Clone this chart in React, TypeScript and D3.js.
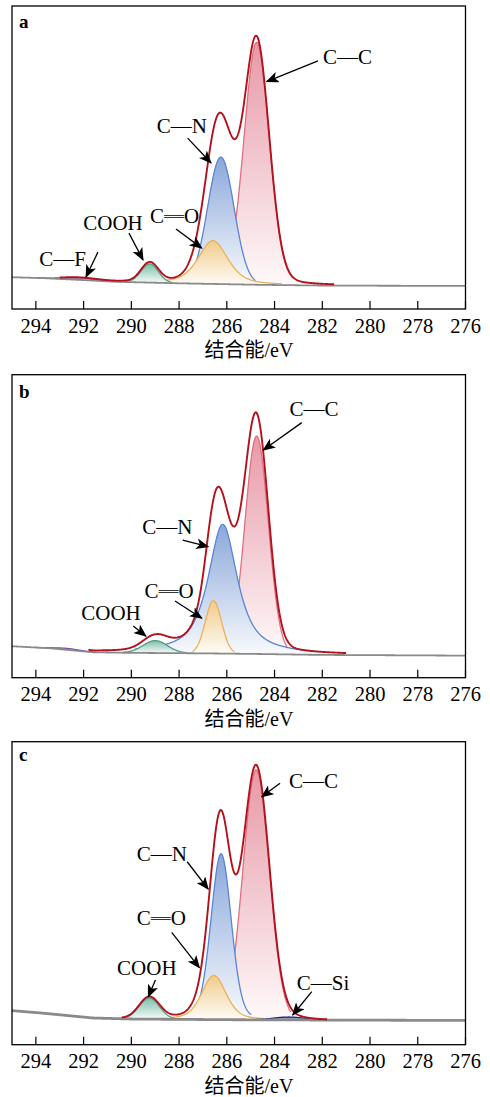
import React from 'react';
import * as d3 from 'd3';

// binding energy ticks (eV)
const tickValues = [294, 292, 290, 288, 286, 284, 282, 280, 278, 276];
const panelLetters = ['a', 'b', 'c'];

// fitted components, panel a
const peakKeysA = ['CC', 'CN', 'CO', 'COOH', 'CF'];
const peakCentersA = [284.75, 286.25, 286.58, 289.23, 292.2];
const peakHeightsA = [84, 44, 15, 6.5, 0.7];
const peakWidthsA = [1.25, 1.3, 1.46, 0.85, 1.6];
const peakMixA = [0.1, 0, 0.5, 0, 0];
const baseEnergyA = [295, 293.7, 292.2, 290.8, 290, 288, 284.4, 281.6, 276];
const baseLevelA = [3.0, 2.7, 2.1, 1.5, 1.3, 0.9, 0.35, 0.1, 0];
const envelopeRangeA = [293.0, 281.5];

// panel b
const peakKeysB = ['CC', 'CN', 'CO', 'COOH', 'CF'];
const peakCentersB = [284.75, 286.17, 286.56, 289.0, 292.7];
const peakHeightsB = [75.5, 44.8, 18.3, 4.3, 0.5];
const peakWidthsB = [1.15, 1.45, 0.8, 1.2, 1.2];
const peakMixB = [0, 0.8, 0, 0, 0];
const baseEnergyB = [295, 293.4, 291.6, 289.9, 287.1, 284.5, 282.1, 276];
const baseLevelB = [2.9, 2.2, 0.8, 0.6, 0.45, 0.2, -0.1, -0.35];
const envelopeRangeB = [291.8, 281.0];

// panel c
const peakKeysC = ['CC', 'CN', 'CO', 'COOH', 'CSi'];
const peakCentersC = [284.77, 286.24, 286.54, 289.25, 283.4];
const peakHeightsC = [86.6, 57.5, 15.3, 7.35, 1.0];
const peakWidthsC = [1.3, 1.0, 1.2, 1.0, 1.5];
const peakMixC = [0, 0.15, 0.4, 0, 0];
const baseEnergyC = [295, 293.8, 291.6, 290, 285.7, 276];
const baseLevelC = [3.8, 3.0, 1.25, 0.9, 0.65, 0.4];
const envelopeRangeC = [290.4, 281.8];

// annotations: [label, text E, text I, arrow start E, I, arrow tip E, I]
const notesA = [
  ['C—C', 280.94, 79.3, 282.18, 78.0, 284.33, 70.8],
  ['C—N', 287.88, 55.4, 287.64, 51.2, 286.66, 42.6],
  ['C═O', 288.19, 24.2, 288.13, 19.7, 287.05, 13.1],
  ['COOH', 290.77, 21.9, 290.1, 18.3, 289.51, 9.0],
  ['C—F', 292.88, 9.3, 291.4, 11.7, 291.9, 3.1],
];
const notesB = [
  ['C—C', 282.35, 85.1, 282.86, 80.4, 284.47, 70.9],
  ['C—N', 288.49, 44.3, 287.85, 39.7, 286.78, 37.4],
  ['C═O', 288.42, 22.1, 288.17, 18.6, 287.05, 12.6],
  ['COOH', 290.85, 14.5, 289.92, 9.9, 289.39, 6.4],
];
const notesC = [
  ['C—C', 282.37, 83.4, 283.77, 82.6, 284.54, 77.9],
  ['C—N', 288.72, 58.1, 287.66, 55.4, 286.78, 45.9],
  ['C═O', 288.74, 36.0, 288.31, 30.9, 287.15, 18.7],
  ['COOH', 289.35, 18.7, 288.99, 14.4, 289.29, 8.6],
  ['C—Si', 281.97, 13.3, 282.44, 10.4, 283.24, 2.3],
];

const colors = {
  CC: { fill: '#e799a7', stroke: '#e0707f' },
  CN: { fill: '#8aa7da', stroke: '#5a84d6' },
  CO: { fill: '#f1cb8a', stroke: '#e9b257' },
  COOH: { fill: '#7dbeaa', stroke: '#4f9e85' },
  CF: { fill: '#b79bd0', stroke: '#7d52a8' },
  CSi: { fill: '#5860a8', stroke: '#1b237a' },
};

const panels = [
  { keys: peakKeysA, centers: peakCentersA, heights: peakHeightsA, widths: peakWidthsA, mix: peakMixA, baseE: baseEnergyA, baseI: baseLevelA, env: envelopeRangeA, notes: notesA },
  { keys: peakKeysB, centers: peakCentersB, heights: peakHeightsB, widths: peakWidthsB, mix: peakMixB, baseE: baseEnergyB, baseI: baseLevelB, env: envelopeRangeB, notes: notesB },
  { keys: peakKeysC, centers: peakCentersC, heights: peakHeightsC, widths: peakWidthsC, mix: peakMixC, baseE: baseEnergyC, baseI: baseLevelC, env: envelopeRangeC, notes: notesC },
];

const W = 490;
const H = 1097;
const plotLeft = 12;
const plotRight = 465.5;
const plotHeight = 303;
const panelTops = [6, 374.7, 741.7];
const letterY = [28.3, 398.3, 761];
const serif = "'Times New Roman', 'Liberation Serif', 'Noto Sans CJK SC', serif";

// pseudo-Voigt line shape used by the fit
const voigt = (e, c, h, w, m) => {
  const t = (e - c) / w;
  return h * ((1 - m) * Math.exp(-4 * Math.LN2 * t * t) + m / (1 + 4 * t * t));
};

const Label = ({ text, x, y }) => {
  const parts = text.split(/(═)/);
  return (
    <text x={x} y={y} textAnchor="middle" dominantBaseline="central" fontSize={21} fontFamily={serif}>
      {parts.map((s, i) =>
        s === '═' ? <tspan key={i} fontFamily="'Noto Sans CJK SC'" fontSize={20}>{s}</tspan> : <tspan key={i}>{s}</tspan>
      )}
    </text>
  );
};

const Panel = ({ p, idx }) => {
  const top = panelTops[idx];
  const bottom = top + plotHeight;
  const x = d3.scaleLinear().domain([295, 276]).range([plotLeft, plotRight]);
  const y = d3.scaleLinear().domain([-8, 97]).range([bottom, top]);
  const base = d3.scaleLinear().domain(p.baseE).range(p.baseI).clamp(true);
  const grid = d3.range(295, 275.99, -0.02);

  const comp = (k, e) => voigt(e, p.centers[k], p.heights[k], p.widths[k], p.mix[k]);
  const total = (e) => base(e) + p.keys.reduce((s, _, k) => s + comp(k, e), 0);

  const line = d3.line().x((d) => x(d[0])).y((d) => y(d[1])).curve(d3.curveLinear);
  const area = d3.area().x((d) => x(d[0])).y0((d) => y(d[2])).y1((d) => y(d[1]));

  const envPts = grid.filter((e) => e <= p.env[0] && e >= p.env[1]).map((e) => [e, total(e)]);
  const basePts = grid.map((e) => [e, base(e)]);

  return (
    <g>
      <defs>
        {p.keys.map((key, k) => (
          <linearGradient key={k} id={`grad-${idx}-${k}`} x1="0" y1="0" x2="0" y2="1">
            <stop offset="0%" stopColor={colors[key].fill} />
            <stop offset="100%" stopColor={d3.interpolateRgb(colors[key].fill, '#ffffff')(0.94)} />
          </linearGradient>
        ))}
      </defs>
      {p.keys.map((key, k) => {
        const thr = p.heights[k] * 0.03;
        const pts = grid.filter((e) => comp(k, e) >= thr).map((e) => [e, base(e) + comp(k, e), base(e)]);
        return (
          <g key={k}>
            <path d={area(pts)} fill={`url(#grad-${idx}-${k})`} />
            <path d={line(pts)} fill="none" stroke={colors[key].stroke} strokeWidth={1.3} />
          </g>
        );
      })}
      <path d={line(basePts)} fill="none" stroke="#8a8a8a" strokeWidth={idx === 2 ? 2.8 : 1.8} />
      <path d={line(envPts)} fill="none" stroke="#b3121c" strokeWidth={1.9} />

      {p.notes.map((n, i) => (
        <g key={i}>
          <Label text={n[0]} x={x(n[1])} y={y(n[2])} />
          <line x1={x(n[3])} y1={y(n[4])} x2={x(n[5])} y2={y(n[6])} stroke="#000" strokeWidth={1.3} markerEnd="url(#arrowhead)" />
        </g>
      ))}

      <rect x={plotLeft} y={top} width={plotRight - plotLeft} height={plotHeight} fill="none" stroke="#000" strokeWidth={1.3} />
      {tickValues.map((t) => (
        <g key={t}>
          <line x1={x(t)} x2={x(t)} y1={bottom} y2={bottom - 8} stroke="#000" strokeWidth={1.2} />
          <text x={x(t)} y={bottom + 23.5} textAnchor="middle" fontSize={20.5} fontFamily={serif}>{t}</text>
        </g>
      ))}
      <text x={249} y={bottom + 48} textAnchor="middle" fontSize={20} fontFamily={serif}>结合能/eV</text>
      <text x={19} y={letterY[idx]} fontSize={19} fontWeight="bold" fontFamily={serif}>{panelLetters[idx]}</text>
    </g>
  );
};

export default function App() {
  return (
    <svg width={W} height={H} viewBox={`0 0 ${W} ${H}`} style={{ position: 'absolute', left: 0, top: 0, background: '#fff' }}>
      <defs>
        <marker id="arrowhead" markerUnits="userSpaceOnUse" viewBox="0 0 12 10" refX="11" refY="5" markerWidth="13" markerHeight="11" orient="auto">
          <path d="M0,0 L12,5 L0,10 L3,5 Z" fill="#000" />
        </marker>
      </defs>
      <rect width={W} height={H} fill="#fff" />
      {panels.map((p, i) => (
        <Panel key={i} p={p} idx={i} />
      ))}
    </svg>
  );
}
